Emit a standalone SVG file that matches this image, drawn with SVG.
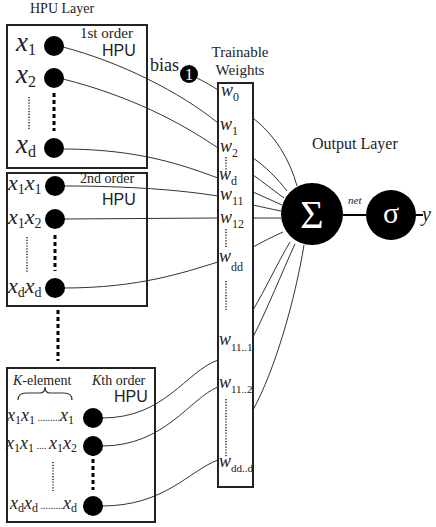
<svg xmlns="http://www.w3.org/2000/svg" width="436" height="527" viewBox="0 0 436 527">
  <style>
    .serif { font-family: "Liberation Serif", "Times New Roman", serif; fill: #222; }
    .sans { font-family: "Liberation Sans", Arial, sans-serif; fill: #222; }
    .it { font-style: italic; }
    .up { font-style: normal; }
    .box { fill: none; stroke: #222; stroke-width: 2; }
    .node { fill: #000; }
    .wire { fill: none; stroke: #333; stroke-width: 1; }
    .dash { stroke: #000; stroke-width: 3; stroke-dasharray: 4 3; }
    .dots { stroke: #333; stroke-width: 1.6; stroke-dasharray: 1.2 1.6; }
    .white { fill: #fff; }
  </style>

  <!-- layer titles -->
  <text class="serif" x="30" y="13" font-size="14">HPU Layer</text>
  <text class="serif" x="240" y="57" font-size="15" text-anchor="middle">Trainable</text>
  <text class="serif" x="240" y="75" font-size="15" text-anchor="middle">Weights</text>
  <text class="serif" x="312" y="149" font-size="16">Output Layer</text>

  <!-- connectors -->
  <g id="connectors">
    <!-- HPU outputs into the weight column -->
    <path class="wire" d="M197,78 C205,82 212,86 218,90"/>
    <path class="wire" d="M63,47 C120,62 180,92 218,123"/>
    <path class="wire" d="M63,79 C130,96 180,122 218,148"/>
    <path class="wire" d="M63,149 C140,149 185,166 218,178"/>
    <path class="wire" d="M64,186 C130,186 180,190 218,196"/>
    <path class="wire" d="M64,219 L218,218"/>
    <path class="wire" d="M64,288 C140,288 185,272 218,262"/>
    <path class="wire" d="M102,418 C165,418 185,372 218,360"/>
    <path class="wire" d="M102,446 C165,446 190,398 218,387"/>
    <path class="wire" d="M102,506 C165,506 190,470 218,460"/>
    <!-- weight column into the summing unit -->
    <path class="wire" d="M253,118 C275,135 290,160 297,186"/>
    <path class="wire" d="M253,158 C265,166 277,178 287,191"/>
    <path class="wire" d="M253,175 C263,182 273,190 284,198"/>
    <path class="wire" d="M253,192 C262,196 271,200 282,205"/>
    <path class="wire" d="M253,205 C262,207 271,209 281,211"/>
    <path class="wire" d="M253,218 L281,218"/>
    <path class="wire" d="M253,247 C262,242 272,237 283,232"/>
    <path class="wire" d="M253,310 C265,290 278,262 290,242"/>
    <path class="wire" d="M253,337 C267,310 282,272 295,244"/>
    <path class="wire" d="M253,410 C275,370 295,300 304,245"/>
    <!-- summing unit to activation to output -->
    <path stroke="#000" stroke-width="2" d="M343,215 L366,215"/>
    <path stroke="#000" stroke-width="2" d="M416,215 L423,215"/>
  </g>

  <!-- first order HPU -->
  <g id="hpu1">
    <rect class="box" x="7" y="25" width="140" height="143"/>
    <text class="serif" x="80" y="38" font-size="15">1st order</text>
    <text class="sans" x="102" y="56" font-size="16">HPU</text>
    <circle class="node" cx="54" cy="46" r="10"/>
    <circle class="node" cx="54" cy="78" r="10"/>
    <circle class="node" cx="54" cy="148" r="10"/>
    <line class="dash" x1="54" y1="93" x2="54" y2="131"/>
    <line class="dots" x1="29" y1="97" x2="29" y2="130"/>
    <text class="serif it" x="16" y="51" font-size="27">x<tspan class="up" font-size="16" dy="4">1</tspan></text>
    <text class="serif it" x="16" y="83" font-size="27">x<tspan class="up" font-size="16" dy="4">2</tspan></text>
    <text class="serif it" x="16" y="153" font-size="27">x<tspan class="up" font-size="16" dy="4">d</tspan></text>
  </g>

  <!-- bias -->
  <g id="bias">
    <text class="serif" x="150" y="71" font-size="18">bias</text>
    <circle class="node" cx="189" cy="74" r="9"/>
    <text class="serif white" x="189" y="80" font-size="16" text-anchor="middle">1</text>
  </g>

  <!-- second order HPU -->
  <g id="hpu2">
    <rect class="box" x="7" y="173" width="140" height="133"/>
    <text class="serif" x="80" y="183" font-size="14">2nd order</text>
    <text class="sans" x="102" y="205" font-size="16">HPU</text>
    <circle class="node" cx="55" cy="186" r="10"/>
    <circle class="node" cx="55" cy="219" r="10"/>
    <circle class="node" cx="55" cy="288" r="10"/>
    <line class="dash" x1="55" y1="235" x2="55" y2="271"/>
    <line class="dots" x1="27" y1="237" x2="27" y2="272"/>
    <text class="serif it" x="8" y="190" font-size="22">x<tspan class="up" font-size="14" dy="4">1</tspan><tspan dy="-4">x</tspan><tspan class="up" font-size="14" dy="4">1</tspan></text>
    <text class="serif it" x="8" y="224" font-size="22">x<tspan class="up" font-size="14" dy="4">1</tspan><tspan dy="-4">x</tspan><tspan class="up" font-size="14" dy="4">2</tspan></text>
    <text class="serif it" x="8" y="293" font-size="22">x<tspan class="up" font-size="14" dy="4">d</tspan><tspan dy="-4">x</tspan><tspan class="up" font-size="14" dy="4">d</tspan></text>
  </g>

  <!-- elided intermediate orders -->
  <line class="dash" x1="58" y1="310" x2="58" y2="361"/>

  <!-- Kth order HPU -->
  <g id="hpuK">
    <rect class="box" x="7" y="368" width="148" height="154"/>
    <text class="serif" x="13" y="385" font-size="14"><tspan class="it">K</tspan>-element</text>
    <path fill="none" stroke="#333" stroke-width="1.2" d="M18,400 Q18,393 26,393 L40,393 Q45,393 45,387 Q45,393 50,393 L64,393 Q72,393 72,400"/>
    <text class="serif" x="92" y="385" font-size="14"><tspan class="it">K</tspan>th order</text>
    <text class="sans" x="114" y="402" font-size="16">HPU</text>
    <circle class="node" cx="93" cy="418" r="10"/>
    <circle class="node" cx="93" cy="446" r="10"/>
    <circle class="node" cx="93" cy="506" r="10"/>
    <line class="dash" x1="93" y1="452" x2="93" y2="490"/>
    <line class="dots" x1="53" y1="462" x2="53" y2="491"/>
    <text class="serif it" x="7" y="421" font-size="18">x<tspan class="up" font-size="12" dy="3">1</tspan><tspan dy="-3">x</tspan><tspan class="up" font-size="12" dy="3">1</tspan><tspan class="up" font-size="10" dy="-3"> .........</tspan><tspan>x</tspan><tspan class="up" font-size="12" dy="3">1</tspan></text>
    <text class="serif it" x="6" y="449" font-size="18">x<tspan class="up" font-size="12" dy="3">1</tspan><tspan dy="-3">x</tspan><tspan class="up" font-size="12" dy="3">1</tspan><tspan class="up" font-size="10" dy="-3"> .... </tspan><tspan>x</tspan><tspan class="up" font-size="12" dy="3">1</tspan><tspan dy="-3">x</tspan><tspan class="up" font-size="12" dy="3">2</tspan></text>
    <text class="serif it" x="10" y="509" font-size="18">x<tspan class="up" font-size="12" dy="3">d</tspan><tspan dy="-3">x</tspan><tspan class="up" font-size="12" dy="3">d</tspan><tspan class="up" font-size="10" dy="-3"> .........</tspan><tspan>x</tspan><tspan class="up" font-size="12" dy="3">d</tspan></text>
  </g>

  <!-- trainable weight column -->
  <g id="weights">
    <rect class="box" x="218" y="83" width="35" height="404"/>
    <text class="serif it" x="221" y="96" font-size="18">w<tspan class="up" font-size="12" dy="5">0</tspan></text>
    <text class="serif it" x="220" y="130" font-size="18">w<tspan class="up" font-size="12" dy="5">1</tspan></text>
    <text class="serif it" x="220" y="152" font-size="18">w<tspan class="up" font-size="12" dy="5">2</tspan></text>
    <line class="dots" x1="226" y1="157" x2="226" y2="172"/>
    <text class="serif it" x="219" y="180" font-size="18">w<tspan class="up" font-size="12" dy="5">d</tspan></text>
    <text class="serif it" x="220" y="200" font-size="18">w<tspan class="up" font-size="12" dy="5">11</tspan></text>
    <text class="serif it" x="220" y="223" font-size="18">w<tspan class="up" font-size="12" dy="5">12</tspan></text>
    <line class="dots" x1="226" y1="229" x2="226" y2="247"/>
    <text class="serif it" x="219" y="262" font-size="18">w<tspan class="up" font-size="12" dy="9">dd</tspan></text>
    <line class="dots" x1="226" y1="281" x2="226" y2="310"/>
    <text class="serif it" x="219" y="345" font-size="18">w<tspan class="up" font-size="11" dy="6">11..1</tspan></text>
    <text class="serif it" x="219" y="388" font-size="18">w<tspan class="up" font-size="11" dy="5">11..2</tspan></text>
    <line class="dots" x1="226" y1="399" x2="226" y2="457"/>
    <text class="serif it" x="219" y="467" font-size="18">w<tspan class="up" font-size="11" dy="5">dd..d</tspan></text>
  </g>

  <!-- output layer -->
  <g id="sum">
    <circle class="node" cx="312" cy="214" r="31"/>
    <text class="serif white" x="312" y="228" font-size="40" text-anchor="middle">Σ</text>
  </g>
  <text class="serif it" x="348" y="204" font-size="11">net</text>
  <g id="sigma">
    <circle class="node" cx="391" cy="215" r="25"/>
    <text class="serif white" x="391" y="223" font-size="30" text-anchor="middle">σ</text>
  </g>
  <text class="serif it" x="422" y="221" font-size="20">y</text>
</svg>
